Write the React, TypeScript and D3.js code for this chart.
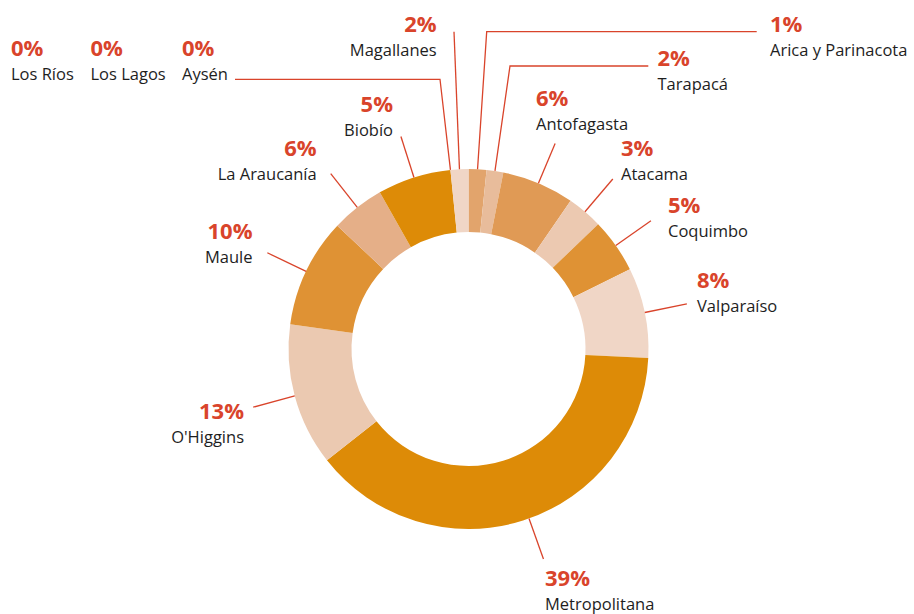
import React from "react";
import * as d3 from "d3";

// Regions in drawing order, clockwise from 12 o'clock
const regions = [
  "Arica y Parinacota", "Tarapacá", "Antofagasta", "Atacama", "Coquimbo",
  "Valparaíso", "Metropolitana", "O'Higgins", "Maule", "La Araucanía",
  "Biobío", "Aysén", "Magallanes", "Los Lagos", "Los Ríos",
];
// slice sizes (percent)
const shares = [1.6, 1.5, 6.5, 3.2, 4.9, 8.1, 38.6, 12.8, 9.8, 4.8, 6.6, 0, 1.6, 0, 0];
// the printed percentages
const pctLabels = ["1%", "2%", "6%", "3%", "5%", "8%", "39%", "13%", "10%", "6%", "5%", "0%", "2%", "0%", "0%"];
const sliceColors = [
  "#e2a46c", "#e8bc9b", "#e09a55", "#ecc9b1", "#df9234",
  "#f0d6c6", "#dd8b07", "#ebc9b1", "#df9234", "#e5af88",
  "#dd8b07", "#f0d6c6", "#f0d6c6", "#f0d6c6", "#f0d6c6",
];

const W = 914;
const H = 614;
const cx = 468.5;
const cy = 349;
const outerR = 180;
const innerR = 117;
const leaderR = 223;

const RED = "#d9442b";
const INK = "#1e1e1e";
const FONT = "'Open Sans', 'Noto Sans', sans-serif";

type Lbl = {
  x: number;
  y: number;
  anchor: "start" | "end";
  elbow?: [number, number][] | null; // custom leader path after the ring point
  none?: boolean;
  skew?: number;
};

// hand placed label positions (percent baseline)
const labelLayout: Record<string, Lbl> = {
  "Arica y Parinacota": { x: 770, y: 32, anchor: "start", elbow: [[486.7, 31.7], [756.7, 31.7]] },
  "Tarapacá": { x: 657.5, y: 66, anchor: "start", elbow: [[510, 66], [648.3, 66]] },
  "Antofagasta": { x: 536, y: 106, anchor: "start" },
  "Atacama": { x: 621, y: 156, anchor: "start" },
  "Coquimbo": { x: 668, y: 212.7, anchor: "start" },
  "Valparaíso": { x: 697, y: 287.5, anchor: "start" },
  "Metropolitana": { x: 545, y: 585.7, anchor: "start", skew: -2 },
  "O'Higgins": { x: 244, y: 419.3, anchor: "end" },
  "Maule": { x: 252.5, y: 239, anchor: "end" },
  "La Araucanía": { x: 316.7, y: 155.5, anchor: "end" },
  "Biobío": { x: 393, y: 111.5, anchor: "end" },
  "Aysén": { x: 182, y: 56, anchor: "start", elbow: [[440, 79.3], [235, 79.3]] },
  "Magallanes": { x: 436.7, y: 31.7, anchor: "end", elbow: [[454, 31.7]] },
  "Los Lagos": { x: 90.5, y: 56, anchor: "start", none: true },
  "Los Ríos": { x: 11, y: 56, anchor: "start", none: true },
};

const polar = (a: number, r: number): [number, number] => [
  cx + r * Math.sin(a),
  cy - r * Math.cos(a),
];

export default function App() {
  const data = regions.map((name, i) => ({ name, value: shares[i], pct: pctLabels[i], color: sliceColors[i] }));

  const pie = d3.pie<any>().sort(null).value((d) => d.value);
  const arcs = pie(data);

  const arc = d3.arc<any>().innerRadius(innerR).outerRadius(outerR);
  const line = d3.line();

  return (
    <svg
      width={W}
      height={H}
      style={{ position: "absolute", left: 0, top: 0, background: "#fff" }}
      fontFamily={FONT}
    >
      <g transform={`translate(${cx},${cy})`}>
        {arcs.map((a) => (
          <path key={a.data.name} d={arc(a) || ""} fill={a.data.color} />
        ))}
      </g>

      {arcs.map((a) => {
        const lay = labelLayout[a.data.name];
        if (lay.none) return null;
        const mid = (a.startAngle + a.endAngle) / 2 + ((lay.skew || 0) * Math.PI) / 180;
        const p0 = polar(mid, outerR);
        const pts: [number, number][] = lay.elbow ? [p0, ...lay.elbow] : [p0, polar(mid, leaderR)];
        return (
          <path
            key={"l" + a.data.name}
            d={line(pts) || ""}
            fill="none"
            stroke={RED}
            strokeWidth={1.3}
          />
        );
      })}

      {arcs.map((a) => {
        const lay = labelLayout[a.data.name];
        return (
          <g key={"t" + a.data.name} textAnchor={lay.anchor}>
            <text x={lay.x} y={lay.y} fill={RED} fontWeight={700} fontSize={22}>
              {a.data.pct}
            </text>
            <text x={lay.x} y={lay.y + 24} fill={INK} fontSize={16.5}>
              {a.data.name}
            </text>
          </g>
        );
      })}
    </svg>
  );
}
